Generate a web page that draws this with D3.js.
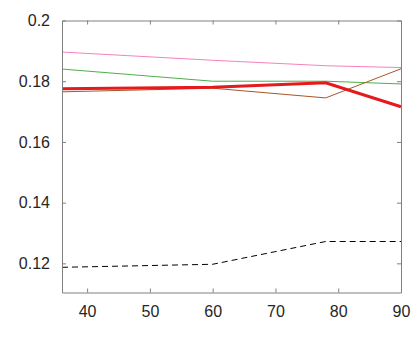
<!DOCTYPE html>
<html>
<head>
<meta charset="utf-8">
<script src="https://cdn.jsdelivr.net/npm/d3@7"></script>
<style>
  body { margin: 0; background: #fff; }
  svg { display: block; font-family: "Liberation Sans", Arial, sans-serif; }
  .tick text { fill: #262626; font-size: 16px; }
</style>
</head>
<body>
<script>
// data
var xs = [36, 60, 78, 90];
var pink = [0.1896, 0.1869, 0.1851, 0.1845];
var green = [0.1840, 0.1800, 0.1800, 0.1791];
var brown = [0.1765, 0.1777, 0.1745, 0.1841];
var red = [0.1775, 0.1780, 0.1795, 0.1716];
var dashed = [0.1187, 0.1197, 0.1272, 0.1272];
var xTicks = [40, 50, 60, 70, 80, 90];
var yTicks = [0.12, 0.14, 0.16, 0.18, 0.2];

var width = 415,
	height = 340;
var mLeft = 62, mRight = 401, mTop = 20.5, mBottom = 292.5;

var svg = d3.select('body').append('svg')
	.attr('width', width)
	.attr('height', height);

var x = d3.scaleLinear().domain([36, 90]).range([mLeft, mRight]);
var y = d3.scaleLinear().domain([0.1104, 0.2]).range([mBottom, mTop]);

var series = [
	{vals: pink, color: '#f781bf', w: 1},
	{vals: green, color: '#4daf4a', w: 1},
	{vals: brown, color: '#a65628', w: 1},
	{vals: red, color: '#e41a1c', w: 3},
	{vals: dashed, color: '#000', w: 1, dash: '6,4'}
];

var line = d3.line()
	.x(function(d, i) { return x(xs[i]); })
	.y(function(d) { return y(d); });

svg.selectAll('path.series')
	.data(series)
	.enter().append('path')
	.attr('class', 'series')
	.attr('d', function(d) { return line(d.vals); })
	.attr('fill', 'none')
	.attr('stroke', function(d) { return d.color; })
	.attr('stroke-width', function(d) { return d.w; })
	.attr('stroke-dasharray', function(d) { return d.dash || null; });

// axes, box style with inward ticks
function styleAxis(g) {
	g.select('.domain').attr('stroke', '#808080');
	g.selectAll('.tick line').attr('stroke', '#808080');
}

svg.append('g')
	.attr('transform', 'translate(0,' + mBottom + ')')
	.call(d3.axisBottom(x).tickValues(xTicks).tickSizeInner(-4).tickSizeOuter(0).tickPadding(13).tickFormat(d3.format('d')))
	.call(styleAxis);

svg.append('g')
	.attr('transform', 'translate(0,' + mTop + ')')
	.call(d3.axisTop(x).tickValues(xTicks).tickSizeInner(-4).tickSizeOuter(0).tickFormat(''))
	.call(styleAxis);

svg.append('g')
	.attr('transform', 'translate(' + mLeft + ',0)')
	.call(d3.axisLeft(y).tickValues(yTicks).tickSizeInner(-4).tickSizeOuter(0).tickPadding(12).tickFormat(function(d) { return String(+d.toFixed(2)); }))
	.call(styleAxis);

svg.append('g')
	.attr('transform', 'translate(' + mRight + ',0)')
	.call(d3.axisRight(y).tickValues(yTicks).tickSizeInner(-4).tickSizeOuter(0).tickFormat(''))
	.call(styleAxis);
</script>
</body>
</html>
